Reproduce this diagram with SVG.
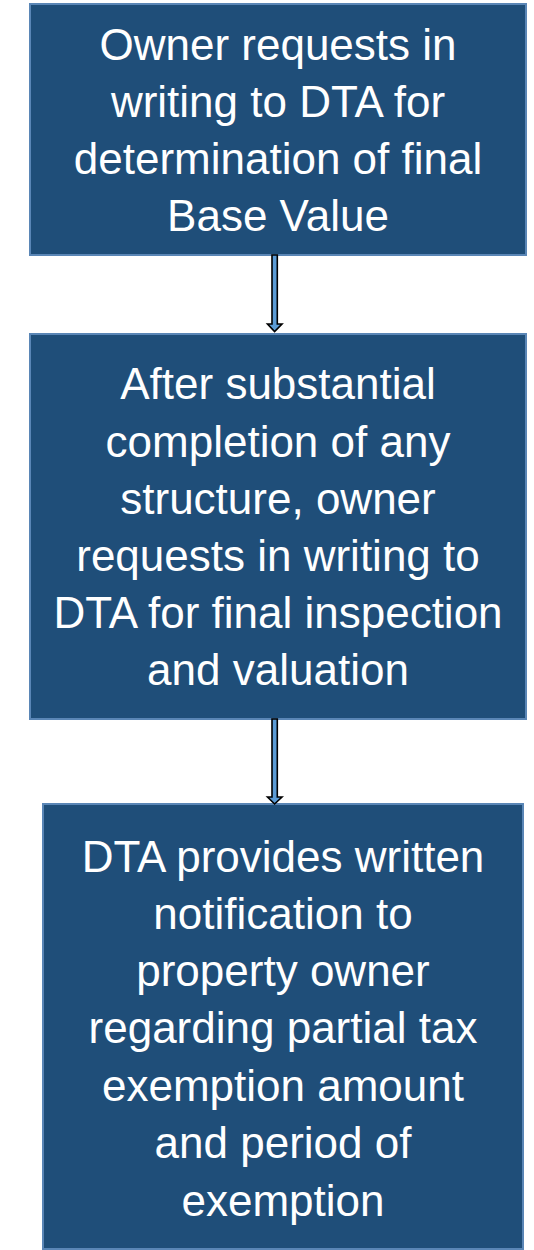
<svg xmlns="http://www.w3.org/2000/svg" width="534" height="1250" viewBox="0 0 534 1250">
<style>
.box{fill:#1F4E79;stroke:#5A86B6;stroke-width:2}
.t{font-family:"Liberation Sans",Arial,sans-serif;font-size:44px;fill:#FFFFFF;text-anchor:middle}
.arr{fill:#5B9BD5;stroke:#000000;stroke-width:1.6;stroke-linejoin:miter}
</style>
<rect width="534" height="1250" fill="#FFFFFF"/>
<g id="node1">
<rect class="box" x="30" y="4" width="496" height="251"/>
<text class="t"><tspan x="278" y="59.5">Owner requests in</tspan><tspan x="278" y="116.5">writing to DTA for</tspan><tspan x="278" y="173.5">determination of final</tspan><tspan x="278" y="230.5">Base Value</tspan></text>
</g>
<g id="node2">
<rect class="box" x="30" y="334" width="496" height="385"/>
<text class="t"><tspan x="278" y="399">After substantial</tspan><tspan x="278" y="456.5">completion of any</tspan><tspan x="278" y="513.5">structure, owner</tspan><tspan x="278" y="570.5">requests in writing to</tspan><tspan x="278" y="628">DTA for final inspection</tspan><tspan x="278" y="685">and valuation</tspan></text>
</g>
<g id="node3">
<rect class="box" x="43" y="804" width="480" height="445"/>
<text class="t"><tspan x="283" y="871.5">DTA provides written</tspan><tspan x="283" y="929">notification to</tspan><tspan x="283" y="986">property owner</tspan><tspan x="283" y="1043">regarding partial tax</tspan><tspan x="283" y="1100.5">exemption amount</tspan><tspan x="283" y="1158">and period of</tspan><tspan x="283" y="1216">exemption</tspan></text>
</g>
<g id="connectors">
<polygon class="arr" points="272,255 277.3,255 277.3,324 282,324 274.6,331.5 267.5,324 272,324"/>
<polygon class="arr" points="272,719 277.3,719 277.3,797 282,797 274.6,804 267.5,797 272,797"/>
</g>
</svg>
